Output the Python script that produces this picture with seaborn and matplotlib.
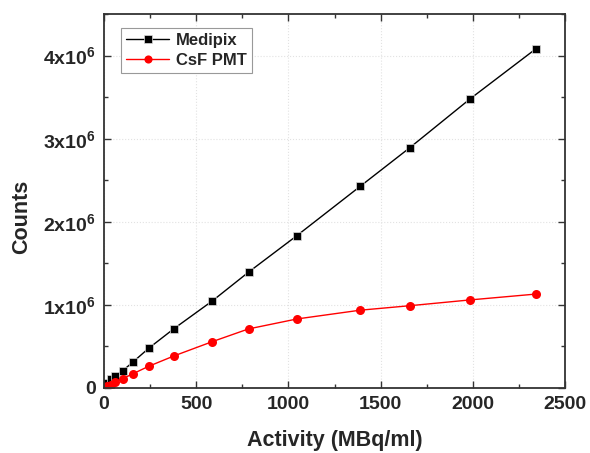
import matplotlib
matplotlib.use("Agg")
import matplotlib.pyplot as plt
from matplotlib.ticker import MultipleLocator, FixedLocator, FixedFormatter
import numpy as np
import pandas as pd
import seaborn as sns

sns.set_style("ticks")
plt.rcParams['font.family'] = ['Liberation Sans', 'DejaVu Sans']
plt.rcParams['font.weight'] = 'bold'
plt.rcParams['mathtext.fontset'] = 'custom'
plt.rcParams['mathtext.rm'] = 'Liberation Sans:bold'
plt.rcParams['mathtext.bf'] = 'Liberation Sans:bold'
plt.rcParams['mathtext.it'] = 'Liberation Sans:bold'

# activity (MBq/ml)
activity = [3, 15, 39, 62, 102, 158, 243, 380, 588, 784, 1047, 1388, 1657, 1985, 2340]
# counts
medipix = [0.02e6, 0.057e6, 0.105e6, 0.145e6, 0.208e6, 0.313e6, 0.478e6, 0.714e6,
           1.048e6, 1.394e6, 1.835e6, 2.425e6, 2.89e6, 3.48e6, 4.08e6]
csf_pmt = [0.004e6, 0.02e6, 0.04e6, 0.069e6, 0.112e6, 0.172e6, 0.261e6, 0.386e6,
           0.558e6, 0.711e6, 0.831e6, 0.936e6, 0.99e6, 1.06e6, 1.13e6]

ytick_vals = [0, 1e6, 2e6, 3e6, 4e6]
ytick_labels = ['0', r'$\mathbf{1x10^6}$', r'$\mathbf{2x10^6}$',
                r'$\mathbf{3x10^6}$', r'$\mathbf{4x10^6}$']

df = pd.DataFrame({'activity': activity, 'Medipix': medipix, 'CsF PMT': csf_pmt})

fig = plt.figure(figsize=(5.9, 4.53), dpi=100)
ax = fig.add_axes([0.176, 0.1435, 0.782, 0.8255])

sns.lineplot(data=df, x='activity', y='Medipix', ax=ax, color='black', lw=1,
             marker='s', markersize=6, markeredgecolor='#dddddd', markeredgewidth=0.5,
             label='Medipix')
sns.lineplot(data=df, x='activity', y='CsF PMT', ax=ax, color='#ff0000', lw=1,
             marker='o', markersize=6.5, markeredgecolor='#ff0000', markeredgewidth=0,
             label='CsF PMT')

ax.set_xlim(0, 2500)
ax.set_ylim(0, 4.5e6)
ax.xaxis.set_major_locator(MultipleLocator(500))
ax.xaxis.set_minor_locator(MultipleLocator(250))
ax.yaxis.set_major_locator(FixedLocator(ytick_vals))
ax.yaxis.set_major_formatter(FixedFormatter(ytick_labels))
ax.yaxis.set_minor_locator(MultipleLocator(0.5e6))

ax.tick_params(which='both', direction='in', top=True, right=True, color='#333333')
ax.tick_params(which='major', length=5, width=1, labelsize=14, pad=6)
ax.tick_params(which='minor', length=3, width=1)
for lab in ax.get_xticklabels() + ax.get_yticklabels():
    lab.set_fontweight('bold')

ax.grid(True, which='major', linestyle=':', color='#e2e2e2', lw=0.8)
for s in ax.spines.values():
    s.set_linewidth(1.3)
    s.set_color('#333333')

ax.set_xlabel('Activity (MBq/ml)', fontsize=15.5, fontweight='bold', labelpad=12)
ax.set_ylabel('Counts', fontsize=15.5, fontweight='bold')
ax.yaxis.set_label_coords(-0.156, 0.457)

leg = ax.legend(loc='upper left', bbox_to_anchor=(0.037, 0.9626), borderaxespad=0,
                fontsize=12, frameon=True, fancybox=False, edgecolor='#999999',
                framealpha=1, handlelength=2.6, borderpad=0.3, labelspacing=0.3,
                handletextpad=0.4, markerscale=0.9)
leg.get_frame().set_linewidth(0.8)
for t in leg.get_texts():
    t.set_fontweight('bold')

fig.savefig('out.png', dpi=100)
